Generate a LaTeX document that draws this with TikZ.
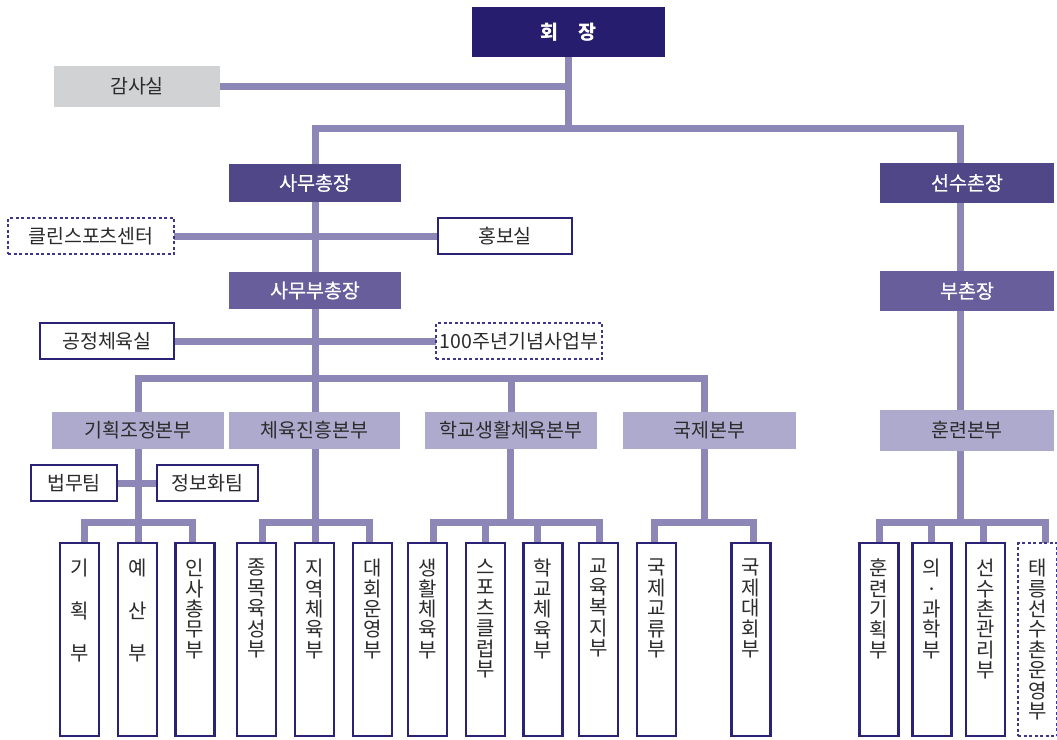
\documentclass[tikz,border=0pt]{standalone}
\usepackage{fontspec}
\newfontfamily\kr{Noto Sans CJK KR}
\newfontfamily\krm[FakeBold=0.7]{Noto Sans CJK KR}
\usetikzlibrary{backgrounds}
\definecolor{lineC}{HTML}{8D87B7}
\definecolor{navyC}{HTML}{261D6E}
\definecolor{darkC}{HTML}{4F4787}
\definecolor{midC}{HTML}{675E9B}
\definecolor{lightC}{HTML}{AEAACE}
\definecolor{grayC}{HTML}{D1D2D4}
\definecolor{bordC}{HTML}{2A2275}
\definecolor{dashC}{HTML}{3E3688}
\definecolor{txtC}{HTML}{2B2B2B}
\begin{document}
\begin{tikzpicture}[x=1pt,y=-1pt,
  box/.style={rectangle, inner sep=0pt, outer sep=0pt, font=\kr\fontsize{19.5}{20}\selectfont, text=txtC},
  wh/.style 2 args={minimum width=#1pt, minimum height=#2pt},
  topbox/.style={box, fill=navyC, text=white, font=\kr\bfseries\fontsize{19.5}{20}\selectfont},
  darkbox/.style={box, fill=darkC, text=white, font=\krm\fontsize{19.5}{20}\selectfont},
  midbox/.style={box, fill=midC, text=white, font=\krm\fontsize{19.5}{20}\selectfont},
  lightbox/.style={box, fill=lightC},
  graybox/.style={box, fill=grayC},
  wbox/.style={box, draw=bordC, line width=2pt, fill=white},
  dbox/.style={box, draw=dashC, line width=2pt, dash pattern=on 3pt off 2.5pt, fill=white},
  leaf/.style={rectangle, inner sep=0pt, outer sep=0pt, draw=bordC, line width=2.6pt, fill=white, minimum width=39pt, minimum height=193pt},
  dleaf/.style={leaf, draw=dashC, line width=2.2pt, dash pattern=on 3pt off 2.5pt},
  vtext/.style={align=center, inner sep=0pt, anchor=north, font=\kr\fontsize{20}{20.4}\selectfont, text=txtC},
  conn/.style={draw=lineC, line width=7pt, line join=miter}
]
\useasboundingbox (0,0) rectangle (1057,739);

% upper nodes
\node[topbox, wh={193}{50}] (hoejang) at (568.5,32) {회\hspace{20pt}장};
\node[graybox, wh={166}{41}] (gamsa) at (137,86.5) {감사실};
\node[darkbox, wh={172}{38}] (samu) at (315,183) {사무총장};
\node[darkbox, wh={174}{40}] (seonsu) at (967,183) {선수촌장};
\node[dbox, wh={166}{36}] (clean) at (91,236) {클린스포츠센터};
\node[wbox, wh={134}{36}] (hongbo) at (505,236) {홍보실};
\node[midbox, wh={172}{37}] (samubu) at (315,290.5) {사무부총장};
\node[midbox, wh={174}{40}] (bucheon) at (967,291) {부촌장};
\node[wbox, wh={134}{36}] (gongjeong) at (107,341) {공정체육실};
\node[dbox, wh={166}{36}] (centen) at (519,341) {100주년기념사업부};
\node[lightbox, wh={172}{37}] (gihoek) at (138,430) {기획조정본부};
\node[lightbox, wh={171}{37}] (cheyuk) at (314.5,430) {체육진흥본부};
\node[lightbox, wh={172}{37}] (hakgyo) at (511,430) {학교생활체육본부};
\node[lightbox, wh={173}{37}] (gukje) at (709.5,430) {국제본부};
\node[lightbox, wh={174}{41}] (hunryeon) at (967,430.5) {훈련본부};
\node[wbox, wh={86}{36}] (beopmu) at (74,483) {법무팀};
\node[wbox, wh={101}{36}] (jeongbo) at (207.5,483) {정보화팀};

% leaves
\node[leaf] (l1) at (79.5,639.5) {};
\node[leaf] (l2) at (137.5,639.5) {};
\node[leaf] (l3) at (195,639.5) {};
\node[leaf] (l4) at (256.5,639.5) {};
\node[leaf] (l5) at (314.5,639.5) {};
\node[leaf] (l6) at (372.5,639.5) {};
\node[leaf] (l7) at (427.5,639.5) {};
\node[leaf] (l8) at (485.5,639.5) {};
\node[leaf] (l9) at (543,639.5) {};
\node[leaf] (l10) at (598.5,639.5) {};
\node[leaf] (l11) at (656.5,639.5) {};
\node[leaf] (l12) at (751,639.5) {};
\node[leaf] (l13) at (879,639.5) {};
\node[leaf] (l14) at (932,639.5) {};
\node[leaf] (l15) at (985.5,639.5) {};
\node[dleaf] (l16) at (1037.5,639.5) {};

\node[vtext] (t1) at ([yshift=-16pt]l1.north) {기\\[22pt]획\\[22pt]부};
\node[vtext] (t2) at ([yshift=-16pt]l2.north) {예\\[22pt]산\\[22pt]부};
\node[vtext] (t3) at ([yshift=-16pt]l3.north) {인\\사\\총\\무\\부};
\node[vtext] (t4) at ([yshift=-16pt]l4.north) {종\\목\\육\\성\\부};
\node[vtext] (t5) at ([yshift=-16pt]l5.north) {지\\역\\체\\육\\부};
\node[vtext] (t6) at ([yshift=-16pt]l6.north) {대\\회\\운\\영\\부};
\node[vtext] (t7) at ([yshift=-16pt]l7.north) {생\\활\\체\\육\\부};
\node[vtext] (t8) at ([yshift=-16pt]l8.north) {스\\포\\츠\\클\\럽\\부};
\node[vtext] (t9) at ([yshift=-16pt]l9.north) {학\\교\\체\\육\\부};
\node[vtext] (t10) at ([yshift=-16pt]l10.north) {교\\육\\복\\지\\부};
\node[vtext] (t11) at ([yshift=-16pt]l11.north) {국\\제\\교\\류\\부};
\node[vtext] (t12) at ([yshift=-16pt]l12.north) {국\\제\\대\\회\\부};
\node[vtext] (t13) at ([yshift=-16pt]l13.north) {훈\\련\\기\\획\\부};
\node[vtext] (t14) at ([yshift=-16pt]l14.north) {의\\·\\과\\학\\부};
\node[vtext] (t15) at ([yshift=-16pt]l15.north) {선\\수\\촌\\관\\리\\부};
\node[vtext] (t16) at ([yshift=-16pt]l16.north) {태\\릉\\선\\수\\촌\\운\\영\\부};

% junction coordinates
\coordinate (jTop) at (568.5,128);
\coordinate (xR) at (960,0);
\coordinate (jMid) at (315,378);
\coordinate (xG) at (704,0);
\coordinate (b1) at (84,522);
\coordinate (b2) at (138,522);
\coordinate (b3) at (192,522);
\coordinate (b4) at (262,522);
\coordinate (b5) at (315,522);
\coordinate (b6) at (369,522);
\coordinate (b7) at (433,522);
\coordinate (b8) at (485,522);
\coordinate (b9) at (537,522);
\coordinate (b10) at (599,522);
\coordinate (d3) at (510,522);
\coordinate (b11) at (654,522);
\coordinate (b12) at (753,522);
\coordinate (b13) at (879,522);
\coordinate (b14) at (931,522);
\coordinate (b15) at (983,522);
\coordinate (b16) at (1045,522);

\begin{scope}[on background layer]
\draw[conn] (hoejang.south) -- (jTop);
\draw[conn] (gamsa.east) -- (gamsa.east -| jTop);
\draw[conn] (samu.north) |- (jTop) -| (xR |- seonsu.north);
\draw[conn] (samu.south) -- (samubu.north);
\draw[conn] (clean.east) -- (hongbo.west);
\draw[conn] (samubu.south) -- (jMid);
\draw[conn] (gongjeong.east) -- (centen.west);
\draw[conn] (gihoek.north) |- (jMid) -| (xG |- gukje.north);
\draw[conn] (jMid) -- (cheyuk.north -| jMid);
\draw[conn] (hakgyo.north |- jMid) -- (hakgyo.north);
\draw[conn] (xR |- seonsu.south) -- (xR |- bucheon.north);
\draw[conn] (xR |- bucheon.south) -- (xR |- hunryeon.north);
% group 1
\draw[conn] (gihoek.south) -- (b2);
\draw[conn] (beopmu.east) -- (jeongbo.west);
\draw[conn] (b1 |- l1.north) -- (b1) -- (b3) -- (b3 |- l3.north);
\draw[conn] (b2) -- (b2 |- l2.north);
% group 2
\draw[conn] (cheyuk.south -| b5) -- (b5);
\draw[conn] (b4 |- l4.north) -- (b4) -- (b6) -- (b6 |- l6.north);
\draw[conn] (b5) -- (b5 |- l5.north);
% group 3
\draw[conn] (hakgyo.south -| d3) -- (d3);
\draw[conn] (b7 |- l7.north) -- (b7) -- (b10) -- (b10 |- l10.north);
\draw[conn] (b8) -- (b8 |- l8.north);
\draw[conn] (b9) -- (b9 |- l9.north);
% group 4
\draw[conn] (xG |- gukje.south) -- (xG |- b11);
\draw[conn] (b11 |- l11.north) -- (b11) -- (b12) -- (b12 |- l12.north);
% group 5
\draw[conn] (xR |- hunryeon.south) -- (xR |- b13);
\draw[conn] (b13 |- l13.north) -- (b13) -- (b16) -- (b16 |- l16.north);
\draw[conn] (b14) -- (b14 |- l14.north);
\draw[conn] (b15) -- (b15 |- l15.north);
\end{scope}
\end{tikzpicture}
\end{document}
